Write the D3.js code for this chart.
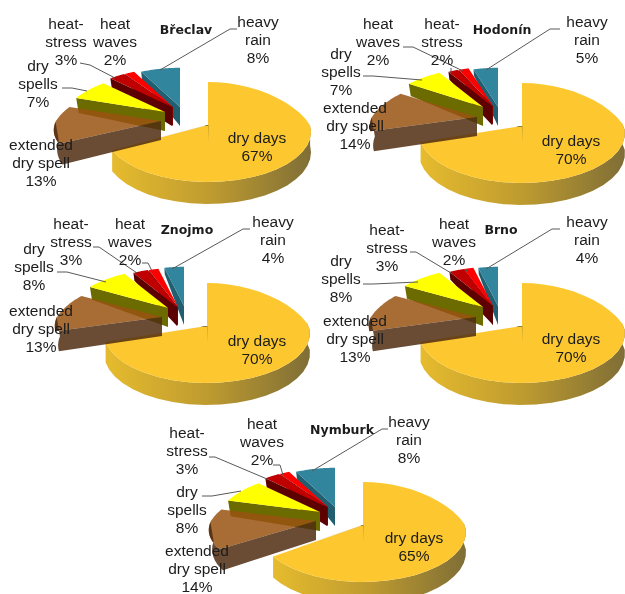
<!DOCTYPE html>
<html><head><meta charset="utf-8">
<script src="https://cdnjs.cloudflare.com/ajax/libs/d3/7.8.5/d3.min.js"></script>
<style>html,body{margin:0;padding:0;background:#fff;overflow:hidden}svg{display:block;filter:blur(0.35px)}</style>
</head><body><svg id="c" width="625" height="594"></svg>
<script>
// ---- data ----
const categories = ["dry days","extended dry spell","dry spells","heat-stress","heat waves","heavy rain"];
const stations = ["Břeclav","Hodonín","Znojmo","Brno","Nymburk"];
const breclavValues = [67,13,7,3,2,8];
const hodoninValues = [70,14,7,2,2,5];
const znojmoValues  = [70,13,8,3,2,4];
const brnoValues    = [70,13,8,3,2,4];
const nymburkValues = [65,14,8,3,2,8];
const stationValues = [breclavValues,hodoninValues,znojmoValues,brnoValues,nymburkValues];
const labelLines = [["dry days"],["extended","dry spell"],["dry","spells"],["heat-","stress"],["heat","waves"],["heavy","rain"]];

// ---- layout (not data) ----
const centers = [[208,125],[522,126],[207,326],[522,326],[363,525]];
const offsetA = [[0,0],[-47,-4],[-43,-13],[-36,-18],[-35,-18],[-28,-18]];
const offsetB = [[0,0],[-45,-9],[-39,-19],[-30,-20],[-29,-20],[-24,-19]];
const offsetC = [[0,0],[-45,-9],[-39,-18],[-30,-19],[-29,-19],[-23,-20]];
const offsetD = [[0,0],[-46,-9],[-39,-19],[-29,-20],[-29,-20],[-24,-20]];
const offsets = [offsetA,offsetB,offsetC,offsetD,offsetA];
const titlePos = [[186,34],[502,34],[187,234],[501,234],[342,434]];
// [centre x, first baseline] for each category's label
const labelPos = [
 [[257,143],[41,150],[38,71],[66,29],[115,29],[258,27]],
 [[571,146],[355,113],[341,59],[442,29],[378,29],[587,27]],
 [[257,346],[41,316],[34,254],[71,229],[130,229],[273,227]],
 [[571,344],[355,326],[341,266],[387,235],[454,229],[587,227]],
 [[414,543],[197,556],[187,497],[187,438],[262,429],[409,427]]
];
const leaders = [
 [[[237,29],[230,29],[160,70]],[[80,63],[90,65],[115,78]],[[62,88],[72,88],[87,91]]],
 [[[560,29],[550,29],[486,70]],[[403,47],[413,47],[463,71]],[[451,68],[451,73]],[[363,76],[373,76],[422,80]]],
 [[[250,229],[243,229],[172,269]],[[93,247],[99,247],[137,273]],[[142,263],[148,263],[152,271]],[[57,272],[67,272],[106,282]]],
 [[[560,229],[552,229],[486,269]],[[410,252],[416,252],[451,273]],[[466,269],[467,272]],[[363,284],[373,284],[418,282]]],
 [[[388,429],[382,429],[312,471]],[[209,457],[215,457],[267,479]],[[273,465],[280,465],[283,475]],[[202,496],[212,496],[241,491]]]
];
const topColors  = ["#FDC82F","#995212","#FFFF00","#C00000","#FF0000","#31859C"];
const wallColors = ["url(#dryWall)","#502D12","#6B6B00","#5C0000","#7A0000","#205E70"];
const opacities  = [1,0.85,1,1,1,1];
const drawOrder  = [0,5,4,3,2,1];

const svg = d3.select("#c");
const x = d3.scaleLinear().domain([-1,1]).range([-102,102]);
const y = d3.scaleLinear().domain([-1,1]).range([49,-49]);
const line = d3.line();
const pie = d3.pie().sort(null).startAngle(0).endAngle(2*Math.PI);

const grad = svg.append("defs").append("linearGradient").attr("id","dryWall")
  .attr("gradientUnits","objectBoundingBox").attr("x1",0).attr("x2",1).attr("y1",0).attr("y2",0);
[[0,"#E6BB2E"],[0.5,"#BE9B30"],[1,"#7F6E36"]].forEach(s=>grad.append("stop").attr("offset",s[0]).attr("stop-color",s[1]));

// projection of a unit-disc point to screen, with perspective
function project(X,Y,k){
  if(k===0){
    const fy = 1/(1+0.14*Y), fx = Y>0 ? 1/(1+0.3*Y) : fy;
    return [x(X*fx), y(Y*fy)];
  }
  const fx = (k===1?1.03:1) * (Y>0 ? 1/(1+0.3*Y) : 1/(1+0.2*Y));
  const fy = Y>0 ? 1/(1+0.25*Y) : 0.9/(1+0.14*Y);
  return [x(X*fx), y(Y*fy)];
}
function onDisc(a,r){ return [r*Math.sin(a), r*Math.cos(a)]; }
function sample(a0,a1){ return d3.range(0,33).map(i=>a0+(a1-a0)*i/32); }

stationValues.forEach((vals,si)=>{
  const [cx,cy] = centers[si];
  const g = svg.append("g");
  const arcs = pie(vals);
  drawOrder.forEach(k=>{
    const d = arcs[k], exploded = k>0;
    const [ox,oy] = offsets[si][k];
    const px = (X,Y)=>{ const p=project(X,Y,k); return [cx+ox+p[0], cy+oy+p[1]]; };
    const lower = (X,Y)=>{
      const drop = exploded ? (Y<0 ? 19-5*Y : 19-14*Y) : 20-2*Y;
      const shrink = exploded ? 0.97 : 1;
      const p = project(X*shrink,Y*shrink,k);
      return [cx+ox+p[0], cy+oy+p[1]+drop];
    };
    const ang = sample(d.startAngle,d.endAngle);
    const rim = ang.map(a=>px(...onDisc(a,1)));
    const rimLow = ang.map(a=>lower(...onDisc(a,1)));
    const tip = px(0,0), tipLow = lower(0,0);
    const s = g.append("g").attr("class","slice");
    // walls: outer rim (front part) and start radial edge, as one path
    let wall = "";
    const limit = exploded ? 0 : 0.1;
    const frontA = ang.filter(a=>Math.cos(a)<limit);
    if(frontA.length>1){
      const up = frontA.map(a=>px(...onDisc(a,1))), dn = frontA.map(a=>lower(...onDisc(a,1))).reverse();
      wall += line(up.concat(dn))+"Z";
    }
    if(exploded){
      wall += line([tip,rim[0],rimLow[0],tipLow])+"Z";
    }
    if(k===1){
      // extended dry spell: translucent face + wall
      s.append("path").attr("d",line([tip,...rim])+"Z").attr("fill",topColors[k]).attr("fill-opacity",opacities[k]);
      s.append("path").attr("d",wall).attr("fill",wallColors[k]).attr("fill-opacity",opacities[k]);
    } else {
      s.append("path").attr("d",wall).attr("fill",wallColors[k]);
      s.append("path").attr("d",line([tip,...rim])+"Z").attr("fill",topColors[k]);
    }
    if(k===0){
      const first = rim[rim.length-1];
      s.append("path").attr("d",line([[first[0]-3,first[1]],tip,[tip[0],tip[1]+18],[tip[0]+0.4,tip[1]]])+"Z").attr("fill","#7A6A30").attr("fill-opacity",0.85);
    }
  });
  // leaders
  leaders[si].forEach(pts=>{
    g.append("path").attr("d",line(pts)).attr("fill","none").attr("stroke","#595959").attr("stroke-width",1);
  });
  // labels
  vals.forEach((v,k)=>{
    const [lx,ly] = labelPos[si][k];
    const t = g.append("text").attr("text-anchor","middle").attr("font-family","'Liberation Sans',Arial,sans-serif")
      .attr("font-size",15.5).attr("fill","#1c1c1c");
    labelLines[k].concat([v+"%"]).forEach((s,i)=>t.append("tspan").attr("x",lx).attr("y",ly+i*18.2).text(s));
  });
  g.append("text").attr("x",titlePos[si][0]).attr("y",titlePos[si][1]).attr("text-anchor","middle")
    .attr("font-family","'DejaVu Sans',sans-serif").attr("font-weight","bold").attr("font-size",12.5).attr("fill","#1c1c1c").text(stations[si]);
});
</script></body></html>
